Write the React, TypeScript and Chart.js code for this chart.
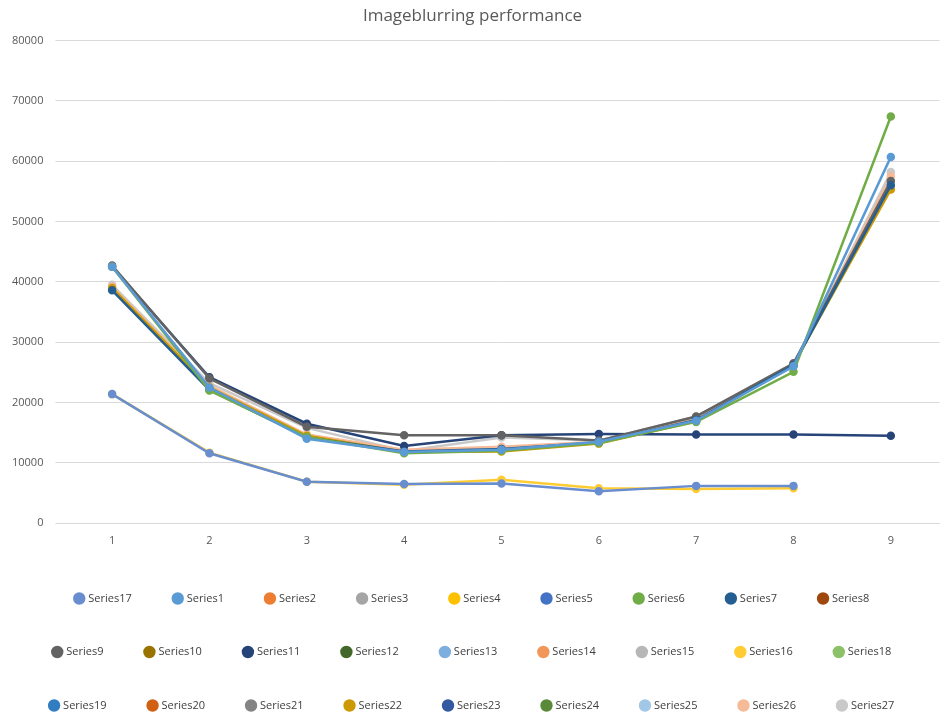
import React, { useRef, useEffect } from 'react';
import { Chart, registerables } from 'chart.js';

Chart.register(...registerables);

const labels = ['1', '2', '3', '4', '5', '6', '7', '8', '9'];

const colors = [
  '#5B9BD5', '#ED7D31', '#A5A5A5', '#FFC000', '#4472C4', '#70AD47', '#255E91', '#9E480E', '#636363',
  '#997300', '#264478', '#43682B', '#7CAFDD', '#F1975A', '#B7B7B7', '#FFCD33', '#698ED0', '#8CC168',
  '#327DC2', '#D26012', '#848484', '#CC9A00', '#335AA1', '#5A8A39', '#A3C7E7', '#F5BA98', '#C9C9C9',
];

// values; series not listed are empty
const series1 = [42500, 22500, 14000, 11800, 12200, 13500, 17000, 26000, 60700];
const series6 = [42500, 22000, 14300, 11600, 12000, 13300, 16800, 25100, 67400];
const series7 = [38600, 22100, 14200, 11900, 12300, 13400, 17100, 26200, 56000];
const series9 = [42700, 24000, 16000, 14600, 14600, 13700, 17700, 26500, 56700];
const series11 = [42500, 24200, 16500, 12800, 14600, 14800, 14700, 14700, 14500];
const series16 = [21400, 11700, 6900, 6400, 7200, 5800, 5700, 5800];
const series17 = [21400, 11600, 6900, 6500, 6600, 5300, 6200, 6200];
const series22 = [39000, 22500, 14500, 11800, 11900, 13200, 16900, 26300, 55300];
const series26 = [39200, 22800, 14700, 12200, 12700, 13500, 17500, 26300, 57500];
const series27 = [39500, 23200, 15800, 12000, 14200, 13700, 17700, 26000, 58200];

const seriesData: Record<number, number[]> = {
  1: series1, 6: series6, 7: series7, 9: series9, 11: series11,
  16: series16, 17: series17, 22: series22, 26: series26, 27: series27,
};

export default function App() {
  const chartRef = useRef<HTMLCanvasElement | null>(null);

  useEffect(() => {
    if (!chartRef.current) return;
    const datasets = colors.map((c, i) => ({
      label: 'Series' + (i + 1),
      data: seriesData[i + 1] || [],
      borderColor: c,
      backgroundColor: c,
      borderWidth: 2.5,
      pointRadius: 3,
      pointHoverRadius: 3,
      tension: 0,
      order: i === 16 ? -1 : 0,
    }));
    const chart = new Chart(chartRef.current, {
      type: 'line',
      data: { labels, datasets },
      options: {
        animation: false,
        responsive: true,
        maintainAspectRatio: false,
        layout: { padding: { left: 0, right: 0, top: 0, bottom: 4 } },
        plugins: {
          title: {
            display: true,
            text: 'Imageblurring performance',
            color: '#595959',
            font: { size: 17, family: 'Open Sans', weight: 'normal' },
            padding: { top: 6, bottom: 14 },
          },
          legend: {
            position: 'bottom',
            labels: {
              color: '#404040',
              font: { size: 11, family: 'Open Sans' },
              usePointStyle: true,
              pointStyle: 'circle',
              boxWidth: 7,
              boxHeight: 7,
              padding: 42.5,
            },
          },
          tooltip: { enabled: false },
        },
        scales: {
          x: {
            offset: true,
            grid: { display: false },
            border: { color: '#d9d9d9' },
            ticks: { color: '#595959', font: { size: 11, family: 'Open Sans' } },
          },
          y: {
            min: 0,
            max: 80000,
            ticks: {
              stepSize: 10000,
              color: '#595959',
              padding: 12,
              font: { size: 11, family: 'Open Sans' },
              callback: (v: any) => String(v),
            },
            grid: { color: '#d9d9d9' },
            border: { display: false },
          },
        },
      },
    });
    return () => chart.destroy();
  }, []);

  return (
    <div style={{ position: 'absolute', left: 0, top: 0, width: 945, height: 725, background: '#fff' }}>
      <canvas ref={chartRef}></canvas>
    </div>
  );
}
